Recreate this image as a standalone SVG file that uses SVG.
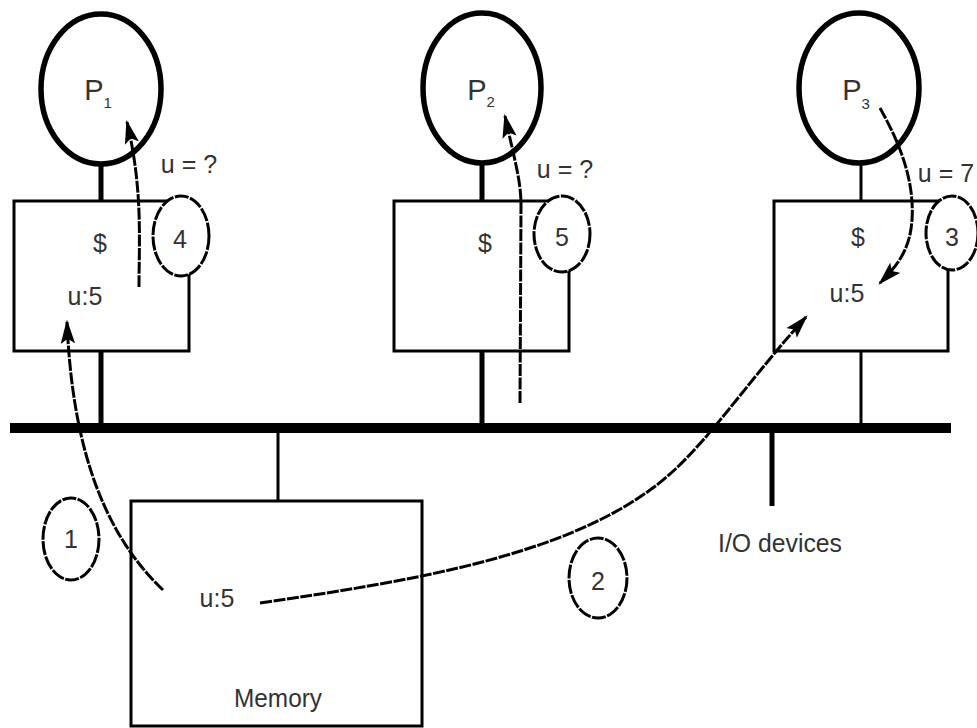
<svg xmlns="http://www.w3.org/2000/svg" width="977" height="728" viewBox="0 0 977 728">
<style>
  .proc { fill: none; stroke: #000; stroke-width: 5.5; }
  .box { fill: #fff; stroke: #000; stroke-width: 3; }
  .num { fill: #fff; stroke: #000; stroke-width: 3; stroke-dasharray: 14 1.5; }
  .stem { stroke: #000; stroke-width: 5; fill: none; }
  .thin { stroke: #000; stroke-width: 3; fill: none; }
  .bus { stroke: #000; stroke-width: 10; fill: none; }
  .arr { fill: none; stroke: #000; stroke-width: 3; stroke-dasharray: 12 1.5; marker-end: url(#ah); }
  text { font-family: "Liberation Sans", Arial, sans-serif; fill: #333; font-size: 25px; text-anchor: middle; }
  .plab { font-size: 29px; }
  .sub { font-size: 15px; }
</style>
<defs>
  <marker id="ah" viewBox="0 0 20 12" refX="18" refY="6" markerWidth="8" markerHeight="4.8" orient="auto" markerUnits="strokeWidth">
    <path d="M0,0 L20,6 L0,12 L4,6 Z" fill="#000"/>
  </marker>
</defs>

<g id="bus">
  <line class="bus" x1="10" y1="428" x2="951" y2="428"/>
</g>

<g id="p1">
  <ellipse class="proc" cx="101" cy="89" rx="60" ry="75"/>
  <text class="plab" x="98" y="100">P<tspan class="sub" dy="8">1</tspan></text>
  <line class="stem" x1="101" y1="164" x2="101" y2="201"/>
  <rect class="box" x="14" y="201" width="175" height="150"/>
  <line class="stem" x1="101" y1="351" x2="101" y2="425"/>
  <text x="100" y="252">$</text>
  <text x="85" y="305">u:5</text>
  <text x="189" y="173">u = ?</text>
  <ellipse class="num" cx="181" cy="236" rx="28" ry="40"/>
  <text x="180" y="248">4</text>
</g>

<g id="p2">
  <ellipse class="proc" cx="482" cy="88" rx="59" ry="75"/>
  <text class="plab" x="481" y="100">P<tspan class="sub" dy="7">2</tspan></text>
  <line class="stem" x1="482" y1="163" x2="482" y2="201"/>
  <rect class="box" x="394" y="201" width="175" height="150"/>
  <line class="stem" x1="482" y1="351" x2="482" y2="425"/>
  <text x="485" y="252">$</text>
  <text x="565" y="178">u = ?</text>
  <ellipse class="num" cx="562" cy="234" rx="28" ry="38"/>
  <text x="562" y="246">5</text>
</g>

<g id="p3">
  <ellipse class="proc" cx="859" cy="88" rx="60" ry="75"/>
  <text class="plab" x="856" y="100">P<tspan class="sub" dy="9">3</tspan></text>
  <line class="thin" x1="861" y1="163" x2="861" y2="201"/>
  <rect class="box" x="774" y="201" width="174" height="150"/>
  <line class="thin" x1="861" y1="351" x2="861" y2="425"/>
  <text x="858" y="246">$</text>
  <text x="847" y="302">u:5</text>
  <text x="946" y="182">u = 7</text>
  <ellipse class="num" cx="952" cy="233" rx="26" ry="37"/>
  <text x="952" y="246">3</text>
</g>

<g id="memory">
  <line class="thin" x1="278" y1="433" x2="278" y2="501"/>
  <rect class="box" x="131" y="501" width="291" height="225" stroke-width="4"/>
  <text x="217" y="607">u:5</text>
  <text x="278" y="707" textLength="88" lengthAdjust="spacingAndGlyphs" font-size="28">Memory</text>
</g>

<g id="io">
  <line class="stem" x1="772" y1="433" x2="772" y2="506"/>
  <text x="780" y="552" textLength="124" lengthAdjust="spacingAndGlyphs" font-size="26">I/O devices</text>
</g>

<g id="connectors">
  <path class="arr" d="M139,287 C139,240 143,190 127,122"/>
  <path class="arr" d="M520,403 L521,205 C521,180 514,158 505,116"/>
  <path class="arr" d="M880,108 C895,135 915,175 912,220 C910,250 897,266 880,283"/>
  <path class="arr" d="M163,590 C100,530 72,440 67,322"/>
  <path class="arr" d="M260,603 C420,580 560,555 650,490 C700,455 740,390 806,317"/>
</g>

<g id="steps">
  <ellipse class="num" cx="71" cy="539" rx="28" ry="41"/>
  <text x="71" y="548">1</text>
  <ellipse class="num" cx="598" cy="578" rx="29" ry="40"/>
  <text x="598" y="590">2</text>
</g>
</svg>
